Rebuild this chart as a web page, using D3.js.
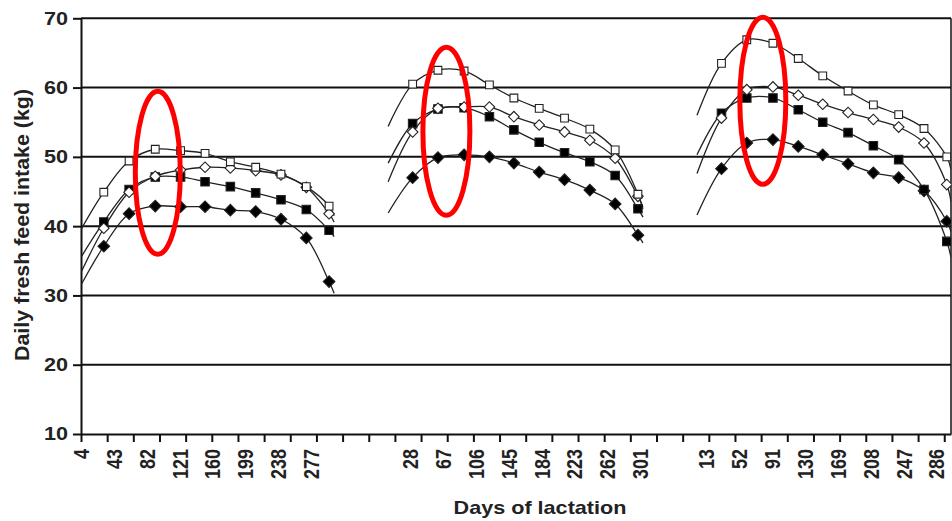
<!DOCTYPE html>
<html>

<head>
  <meta charset="UTF-8" />
  <title>Daily fresh feed intake</title>
  <style>
    body {
      margin: 0;
      background: #fff;
    }

    svg {
      display: block;
      font-family: "Liberation Sans", Arial, Helvetica, sans-serif;
    }
  </style>
  <script src="https://cdn.jsdelivr.net/npm/d3@7"></script>
</head>

<body>
  <script>
    /* Data: three lactations side by side on one category axis */
    const panelOffset = [-4, 362, 728];          // category index = day + offset
    const tickLabels = [
      [4, 43, 82, 121, 160, 199, 238, 277],
      [28, 67, 106, 145, 184, 223, 262, 301],
      [13, 52, 91, 130, 169, 208, 247, 286]
    ];
    const testDays = [31, 61, 92, 122, 151, 181, 211, 241, 271, 298];
    const curveStartDay = [4, 2, 2];
    const curveEndDay = [304, 304, 303];

    const openSquare = [
      [44.9, 49.4, 51.1, 50.9, 50.5, 49.3, 48.5, 47.5, 45.7, 42.9],
      [60.5, 62.5, 62.4, 60.4, 58.5, 57.0, 55.6, 54.0, 51.0, 44.6],
      [63.5, 66.9, 66.4, 64.2, 61.7, 59.5, 57.5, 56.1, 54.1, 50.0]
    ];
    const openDiamond = [
      [39.7, 44.9, 47.2, 48.1, 48.5, 48.4, 48.0, 47.4, 45.6, 41.8],
      [53.6, 57.0, 57.2, 57.2, 55.8, 54.6, 53.6, 52.4, 49.8, 44.3],
      [55.6, 59.7, 60.1, 58.9, 57.6, 56.4, 55.4, 54.3, 52.0, 46.0]
    ];
    const filledSquare = [
      [40.6, 45.3, 47.1, 47.1, 46.4, 45.7, 44.8, 43.8, 42.4, 39.4],
      [54.8, 56.9, 57.1, 55.8, 53.9, 52.1, 50.6, 49.3, 47.3, 42.5],
      [56.3, 58.5, 58.5, 56.8, 55.0, 53.5, 51.6, 49.6, 45.3, 37.8]
    ];
    const filledDiamond = [
      [37.1, 41.8, 42.9, 42.8, 42.8, 42.3, 42.1, 41.0, 38.3, 32.0],
      [47.0, 49.9, 50.3, 50.0, 49.1, 47.8, 46.7, 45.2, 43.2, 38.7],
      [48.3, 52.0, 52.5, 51.5, 50.3, 49.0, 47.7, 47.0, 45.1, 40.7]
    ];
    /* where the fitted curves begin and end, per panel */
    const curveStart = {
      openSquare: [39.5, 54.4, 56.0],
      openDiamond: [33.3, 46.4, 47.6],
      filledSquare: [35.5, 49.1, 50.3],
      filledDiamond: [31.5, 41.9, 41.6]
    };
    const curveEnd = {
      openSquare: [41.5, 42.5, 48.2],
      openDiamond: [40.6, 42.8, 43.5],
      filledSquare: [38.5, 41.3, 35.5],
      filledDiamond: [30.3, 37.6, 39.2]
    };
    const yTicks = [10, 20, 30, 40, 50, 60, 70];
    const gridValues = [20, 30, 40, 50, 60, 70];
    /* red highlight ellipses around the peaks */
    const peakDays = [95, 71, 80];
    const peakValues = [47.7, 53.7, 58.1];

    let width = 952,
      height = 521,
      plot = { left: 81, right: 951, top: 18.3, bottom: 434 },
      stretch = 1.2,
      series = [
        { name: "filledDiamond", values: filledDiamond, shape: "diamond", fill: "#000" },
        { name: "filledSquare", values: filledSquare, shape: "square", fill: "#000" },
        { name: "openDiamond", values: openDiamond, shape: "diamond", fill: "#fff" },
        { name: "openSquare", values: openSquare, shape: "square", fill: "#fff" }
      ];

    let svg = d3.select("body")
      .append("svg")
      .attr("width", width)
      .attr("height", height);

    let xScale = d3.scaleLinear().domain([0, 1031]).range([plot.left, plot.right]);
    let yScale = d3.scaleLinear().domain([10, 70]).range([plot.bottom, plot.top]);

    svg.append("defs").append("clipPath")
      .attr("id", "plot-clip")
      .append("rect")
      .attr("x", plot.left)
      .attr("y", plot.top - 2)
      .attr("width", plot.right - plot.left)
      .attr("height", plot.bottom - plot.top + 2);

    /* Gridlines */
    svg.append("g")
      .selectAll("line")
      .data(gridValues)
      .enter()
      .append("line")
      .attr("x1", plot.left)
      .attr("x2", plot.right)
      .attr("y1", d => yScale(d))
      .attr("y2", d => yScale(d))
      .attr("stroke", "#111")
      .attr("stroke-width", 2);

    /* right border */
    svg.append("line")
      .attr("x1", plot.right).attr("x2", plot.right)
      .attr("y1", plot.top).attr("y2", plot.bottom)
      .attr("stroke", "#111")
      .attr("stroke-width", 1.5);

    /* Axes */
    let yAxis = svg.append("g")
      .attr("transform", `translate(${plot.left},0)`)
      .call(d3.axisLeft(yScale).tickValues(yTicks).tickSize(8).tickSizeOuter(0).tickFormat(""));

    let xAxis = svg.append("g")
      .attr("transform", `translate(0,${plot.bottom})`)
      .call(d3.axisBottom(xScale).tickValues(d3.range(0, 1031, 31)).tickSize(8).tickSizeOuter(0).tickFormat(""));

    [yAxis, xAxis].forEach(a => {
      a.selectAll("path, line").attr("stroke", "#111").attr("stroke-width", 2);
    });

    /* Y tick labels */
    svg.append("g")
      .selectAll("text")
      .data(yTicks)
      .enter()
      .append("text")
      .attr("transform", d => `translate(68,${yScale(d)}) scale(${stretch},1)`)
      .attr("dy", "0.36em")
      .attr("text-anchor", "end")
      .attr("font-size", 18)
      .attr("font-weight", "bold")
      .attr("fill", "#222")
      .text(d => d);

    /* X tick labels, rotated */
    let labelData = [];
    tickLabels.forEach((days, p) => days.forEach(day => labelData.push({ day: day, idx: day + panelOffset[p] })));

    svg.append("g")
      .selectAll("text")
      .data(labelData)
      .enter()
      .append("text")
      .attr("transform", d => `translate(${xScale(d.idx)},449) scale(${stretch},1) rotate(-90)`)
      .attr("dy", "0.36em")
      .attr("text-anchor", "end")
      .attr("font-size", 18)
      .attr("font-weight", "bold")
      .attr("fill", "#222")
      .text(d => d.day);

    /* Axis titles */
    svg.append("text")
      .attr("transform", `translate(540,514) scale(${stretch},1)`)
      .attr("text-anchor", "middle")
      .attr("font-size", 18)
      .attr("font-weight", "bold")
      .attr("fill", "#222")
      .text("Days of lactation");

    svg.append("text")
      .attr("transform", `translate(29,225) scale(${stretch},1) rotate(-90)`)
      .attr("text-anchor", "middle")
      .attr("font-size", 17)
      .attr("font-weight", "bold")
      .attr("fill", "#222")
      .attr("textLength", 272)
      .attr("lengthAdjust", "spacingAndGlyphs")
      .text("Daily fresh feed intake (kg)");

    /* Fitted curves */
    let line = d3.line()
      .x(d => xScale(d.idx))
      .y(d => yScale(d.v))
      .curve(d3.curveCatmullRom.alpha(0.5));

    let curves = svg.append("g").attr("clip-path", "url(#plot-clip)");
    let markers = svg.append("g").attr("clip-path", "url(#plot-clip)");

    series.forEach(s => {
      s.values.forEach((vals, p) => {
        let off = panelOffset[p];
        let pts = [{ idx: curveStartDay[p] + off, v: curveStart[s.name][p] }]
          .concat(vals.map((v, i) => ({ idx: testDays[i] + off, v: v })))
          .concat([{ idx: curveEndDay[p] + off, v: curveEnd[s.name][p] }]);

        curves.append("path")
          .datum(pts)
          .attr("d", line)
          .attr("fill", "none")
          .attr("stroke", "#222")
          .attr("stroke-width", 1.3);
      });
    });

    series.forEach(s => {
      s.values.forEach((vals, p) => {
        let off = panelOffset[p];
        let sym = d3.symbol().type(d3.symbolSquare).size(s.shape === "square" ? (s.fill === "#000" ? 72 : 60) : (s.fill === "#000" ? 68 : 56));
        markers.selectAll(null)
          .data(vals.map((v, i) => ({ idx: testDays[i] + off, v: v })))
          .enter()
          .append("path")
          .attr("d", sym)
          .attr("transform", d => `translate(${xScale(d.idx)},${yScale(d.v)})` + (s.shape === "diamond" ? " rotate(45)" : ""))
          .attr("fill", s.fill)
          .attr("stroke", "#222")
          .attr("stroke-width", 1.1);
      });
    });

    /* Red ellipses */
    let rx = [22.5, 23.5, 23], ry = [81.5, 84, 83.5];
    svg.append("g")
      .selectAll("ellipse")
      .data(peakDays)
      .enter()
      .append("ellipse")
      .attr("cx", (d, i) => xScale(d + panelOffset[i]))
      .attr("cy", (d, i) => yScale(peakValues[i]))
      .attr("rx", (d, i) => rx[i])
      .attr("ry", (d, i) => ry[i])
      .attr("fill", "none")
      .attr("stroke", "#f00")
      .attr("stroke-width", 5);
  </script>
</body>

</html>
